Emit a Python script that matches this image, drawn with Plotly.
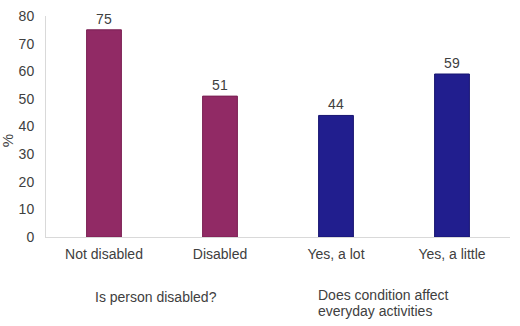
import plotly.graph_objects as go

categories = ["Not disabled", "Disabled", "Yes, a lot", "Yes, a little"]
values = [75, 51, 44, 59]
colors = ["#912A65", "#912A65", "#211E8E", "#211E8E"]
borders = ["#7A1F52", "#7A1F52", "#171470", "#171470"]
group1_lines = ["Is person disabled?"]
group2_lines = ["Does condition affect", "everyday activities"]
y_ticks = [0, 10, 20, 30, 40, 50, 60, 70, 80]
y_title = "%"

font = "Liberation Sans, Arial, sans-serif"
txt = "#404040"
fig = go.Figure()
fig.add_trace(go.Bar(
    x=categories, y=values,
    marker=dict(color=colors, line=dict(color=borders, width=1)),
    width=0.30,
    text=[str(v) for v in values], textposition="outside",
    textfont=dict(family=font, size=14, color=txt),
    cliponaxis=False,
))
fig.update_layout(
    width=520, height=326,
    margin=dict(l=46, r=10, t=16, b=89),
    plot_bgcolor="white", paper_bgcolor="white",
    showlegend=False,
    font=dict(family=font, size=14, color=txt),
    xaxis=dict(showline=True, linecolor="#D9D9D9", linewidth=1, ticks="",
               ticklabelstandoff=4, automargin=False,
               tickfont=dict(size=14, color=txt)),
    yaxis=dict(range=[0, 80], tickvals=y_ticks, showgrid=False, zeroline=False,
               showline=True, linecolor="#D9D9D9", linewidth=1, ticks="",
               ticklabelstandoff=8, automargin=False,
               tickfont=dict(size=14, color=txt)),
)
# y-axis title
fig.add_annotation(x=-38 / 454, y=(237 - 141) / 221, xref="paper", yref="paper",
                   text=y_title, textangle=-90, showarrow=False,
                   xanchor="center", yanchor="middle",
                   font=dict(size=15, color=txt))
# group labels (paper y measured from plot bottom; plot height = 221 px)
fig.add_annotation(x=0.45, y=-60 / 221, xref="x", yref="paper", text=group1_lines[0],
                   showarrow=False, xanchor="center", yanchor="middle",
                   font=dict(size=14, color=txt))
for i, line in enumerate(group2_lines):
    fig.add_annotation(x=1.83, y=-(58 + 16 * i) / 221, xref="x", yref="paper", text=line,
                       showarrow=False, xanchor="left", yanchor="middle", align="left",
                       font=dict(size=14, color=txt))
fig.write_html("out.html")
